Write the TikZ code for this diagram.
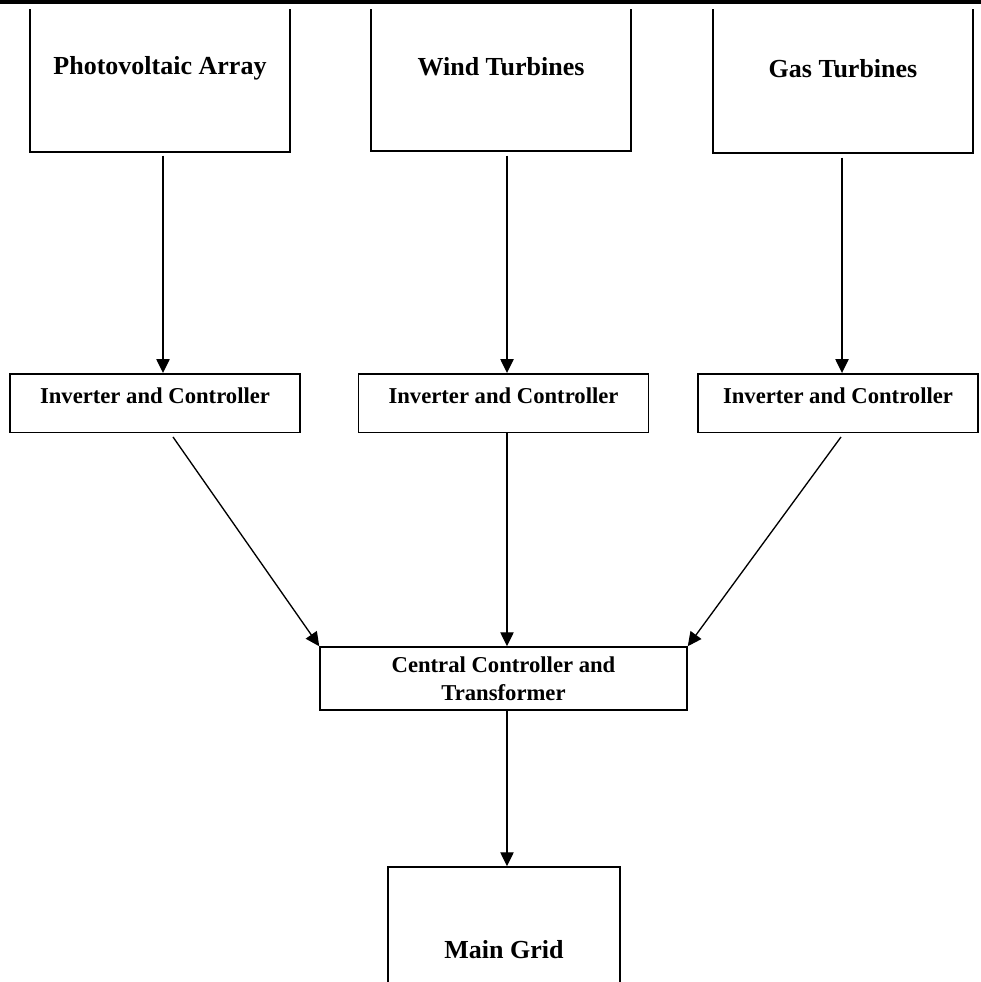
\documentclass[tikz,border=0pt]{standalone}
\usepackage{fontspec}
\setmainfont{Liberation Serif}
\usetikzlibrary{arrows.meta}

\begin{document}
\begin{tikzpicture}[
    x=0.75pt, y=-0.75pt,
    blk/.style={draw, rectangle, line width=1.1pt, align=center, inner sep=0pt, font=\bfseries\fontsize{17}{21}\selectfont},
    srcbox/.style={blk, minimum width=195pt, minimum height=126pt, font=\bfseries\fontsize{19.5}{23}\selectfont},
    invbox/.style={blk, minimum width=217.5pt, text height=22.1pt, text depth=21.75pt},
    arrow/.style={-{Triangle[length=10.5pt, width=10pt]}, line width=1pt}
]
\useasboundingbox (0,0) rectangle (981,982);
\draw[line width=2.4pt] (0,2) -- (981,2);
\begin{scope}
\clip (0,9) rectangle (981,982);
% sources
\node[srcbox] (pv) at (160,68) {Photovoltaic Array};
\node[srcbox] (wind) at (501,67) {Wind Turbines};
\node[srcbox] (gas) at (843,69) {Gas Turbines};
% converters
\node[invbox] (inv1) at (155,403) {Inverter and Controller};
\node[invbox] (inv2) at (503.5,403) {Inverter and Controller};
\node[invbox, minimum width=210pt] (inv3) at (838,403) {Inverter and Controller};
\node[blk, minimum width=275.25pt, minimum height=47.25pt] (cc) at (503.5,678.5) {Central Controller and\\Transformer};
\node[srcbox, minimum width=174pt, minimum height=123.75pt] (grid) at (504,949.5) {Main Grid};

\coordinate (pvout) at ([shift={(3,3)}]pv.south);
\coordinate (windout) at ([shift={(6,4)}]wind.south);
\coordinate (gasout) at ([shift={(-1,4)}]gas.south);
\coordinate (inv1out) at ([shift={(18,4)}]inv1.south);
\coordinate (inv2out) at ([shift={(3.5,0)}]inv2.south);
\coordinate (inv3out) at ([shift={(3,4)}]inv3.south);
\coordinate (ccout) at ([shift={(3.5,0)}]cc.south);

\draw[arrow] (pvout) -- (pvout |- inv1.north);
\draw[arrow] (windout) -- (windout |- inv2.north);
\draw[arrow] (gasout) -- (gasout |- inv3.north);
\draw[arrow] (inv1out) -- (cc.north west);
\draw[arrow] (inv2out) -- (inv2out |- cc.north);
\draw[arrow] (inv3out) -- (cc.north east);
\draw[arrow] (ccout) -- (ccout |- grid.north);
\end{scope}
\end{tikzpicture}
\end{document}
